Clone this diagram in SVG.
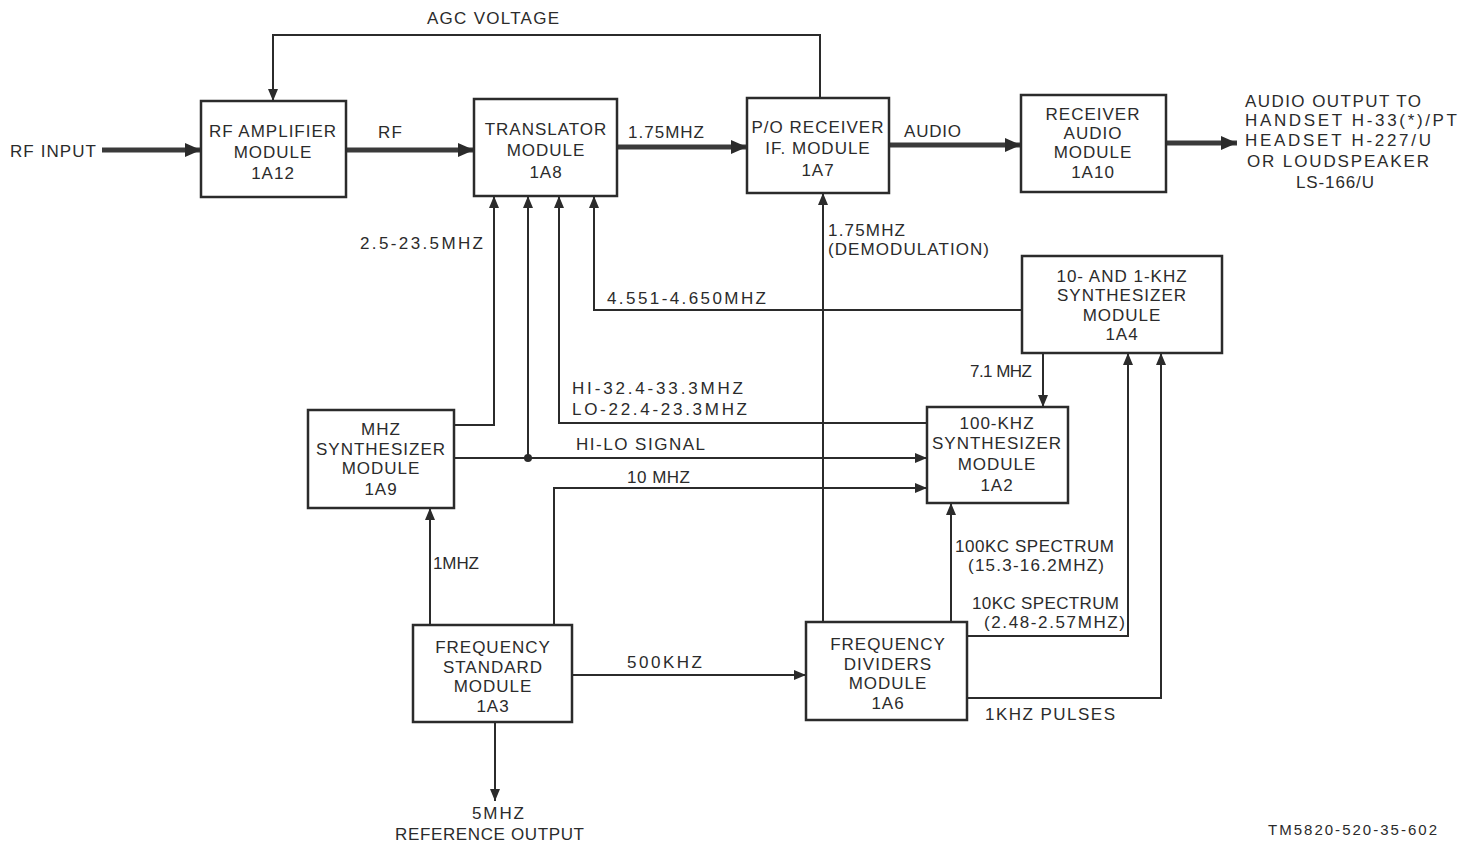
<svg xmlns="http://www.w3.org/2000/svg" width="1467" height="846" viewBox="0 0 1467 846">
<style>
.box{fill:none;stroke:#2b2b2b;stroke-width:2.5}
.t{font-family:"Liberation Sans",Arial,sans-serif;font-size:17px;letter-spacing:1px;fill:#2b2b2b}
.c{text-anchor:middle}
.thin{fill:none;stroke:#2b2b2b;stroke-width:2}
.thick{fill:none;stroke:#3a3a3a;stroke-width:5}
</style>
<defs>
<marker id="a" markerUnits="userSpaceOnUse" viewBox="0 0 12 10" refX="12" refY="5" markerWidth="12" markerHeight="10" orient="auto"><path d="M0,0 L12,5 L0,10 Z" fill="#2b2b2b"/></marker>
<marker id="A" markerUnits="userSpaceOnUse" viewBox="0 0 16 14" refX="16" refY="7" markerWidth="16" markerHeight="14" orient="auto"><path d="M0,0 L16,7 L0,14 Z" fill="#2b2b2b"/></marker>
</defs>
<rect width="1467" height="846" fill="#fff"/>

<g id="connectors">
<path class="thick" d="M102,150 H201" marker-end="url(#A)"/>
<path class="thick" d="M346,150 H474" marker-end="url(#A)"/>
<path class="thick" d="M617,147 H747" marker-end="url(#A)"/>
<path class="thick" d="M889,145 H1021" marker-end="url(#A)"/>
<path class="thick" d="M1166,143 H1237" marker-end="url(#A)"/>
<path class="thin" d="M820,98 V35 H273 V101" marker-end="url(#a)"/>
<path class="thin" d="M454,425 H494 V196" marker-end="url(#a)"/>
<path class="thin" d="M528,458 V196" marker-end="url(#a)"/>
<circle cx="528" cy="458" r="4" fill="#2b2b2b"/>
<path class="thin" d="M454,458 H927" marker-end="url(#a)"/>
<path class="thin" d="M927,423 H559 V196" marker-end="url(#a)"/>
<path class="thin" d="M1022,310 H594 V196" marker-end="url(#a)"/>
<path class="thin" d="M554,625 V488 H927" marker-end="url(#a)"/>
<path class="thin" d="M430,625 V508" marker-end="url(#a)"/>
<path class="thin" d="M572,675 H806" marker-end="url(#a)"/>
<path class="thin" d="M495,722 V801" marker-end="url(#a)"/>
<path class="thin" d="M823,622 V193" marker-end="url(#a)"/>
<path class="thin" d="M1043,353 V407" marker-end="url(#a)"/>
<path class="thin" d="M951,622 V503" marker-end="url(#a)"/>
<path class="thin" d="M967,636 H1128 V353" marker-end="url(#a)"/>
<path class="thin" d="M967,698 H1161 V353" marker-end="url(#a)"/>
</g>

<g id="labels" class="t">
<text x="427" y="24" textLength="133">AGC VOLTAGE</text>
<text x="10" y="157" textLength="87">RF INPUT</text>
<text x="378" y="138" textLength="25">RF</text>
<text x="628" y="138" textLength="77">1.75MHZ</text>
<text x="904" y="137" textLength="58">AUDIO</text>
<text x="1245" y="107" textLength="177">AUDIO OUTPUT  TO</text>
<text x="1245" y="126" textLength="213">HANDSET H-33(*)/PT</text>
<text x="1245" y="146" textLength="187">HEADSET H-227/U</text>
<text x="1247" y="167" textLength="183">OR LOUDSPEAKER</text>
<text x="1296" y="188" textLength="79">LS-166/U</text>
<text x="360" y="249" textLength="124">2.5-23.5MHZ</text>
<text x="828" y="236" textLength="78">1.75MHZ</text>
<text x="828" y="255" textLength="162">(DEMODULATION)</text>
<text x="607" y="304" textLength="160">4.551-4.650MHZ</text>
<text x="970" y="377" textLength="63">7.1 MHZ</text>
<text x="572" y="394" textLength="172">HI-32.4-33.3MHZ</text>
<text x="572" y="415" textLength="176">LO-22.4-23.3MHZ</text>
<text x="576" y="450" textLength="130">HI-LO SIGNAL</text>
<text x="627" y="483" textLength="64">10 MHZ</text>
<text x="433" y="569" textLength="47">1MHZ</text>
<text x="955" y="552" textLength="160">100KC SPECTRUM</text>
<text x="968" y="571" textLength="137">(15.3-16.2MHZ)</text>
<text x="972" y="609" textLength="148">10KC SPECTRUM</text>
<text x="984" y="628" textLength="142">(2.48-2.57MHZ)</text>
<text x="627" y="668" textLength="76">500KHZ</text>
<text x="985" y="720" textLength="131">1KHZ PULSES</text>
<text x="472" y="819" textLength="53">5MHZ</text>
<text x="395" y="840" textLength="190">REFERENCE OUTPUT</text>
<text x="1268" y="835" style="font-size:15px" textLength="170">TM5820-520-35-602</text>
</g>

<g id="rf-amp">
<rect class="box" x="201" y="101" width="145" height="96"/>
<text class="t c" x="273" y="137">RF AMPLIFIER</text>
<text class="t c" x="273" y="158">MODULE</text>
<text class="t c" x="273" y="179">1A12</text>
</g>
<g id="translator">
<rect class="box" x="474" y="99" width="143" height="97"/>
<text class="t c" x="546" y="135">TRANSLATOR</text>
<text class="t c" x="546" y="156">MODULE</text>
<text class="t c" x="546" y="178">1A8</text>
</g>
<g id="po-receiver">
<rect class="box" x="747" y="98" width="142" height="95"/>
<text class="t c" x="818" y="133">P/O RECEIVER</text>
<text class="t c" x="818" y="154">IF. MODULE</text>
<text class="t c" x="818" y="176">1A7</text>
</g>
<g id="receiver-audio">
<rect class="box" x="1021" y="95" width="145" height="97"/>
<text class="t c" x="1093" y="120">RECEIVER</text>
<text class="t c" x="1093" y="139">AUDIO</text>
<text class="t c" x="1093" y="158">MODULE</text>
<text class="t c" x="1093" y="178">1A10</text>
</g>
<g id="synth-10-1">
<rect class="box" x="1022" y="256" width="200" height="97"/>
<text class="t c" x="1122" y="282">10- AND 1-KHZ</text>
<text class="t c" x="1122" y="301">SYNTHESIZER</text>
<text class="t c" x="1122" y="321">MODULE</text>
<text class="t c" x="1122" y="340">1A4</text>
</g>
<g id="synth-100k">
<rect class="box" x="927" y="407" width="141" height="96"/>
<text class="t c" x="997" y="429">100-KHZ</text>
<text class="t c" x="997" y="449">SYNTHESIZER</text>
<text class="t c" x="997" y="470">MODULE</text>
<text class="t c" x="997" y="491">1A2</text>
</g>
<g id="synth-mhz">
<rect class="box" x="308" y="410" width="146" height="98"/>
<text class="t c" x="381" y="435">MHZ</text>
<text class="t c" x="381" y="455">SYNTHESIZER</text>
<text class="t c" x="381" y="474">MODULE</text>
<text class="t c" x="381" y="495">1A9</text>
</g>
<g id="freq-std">
<rect class="box" x="413" y="625" width="159" height="97"/>
<text class="t c" x="493" y="653">FREQUENCY</text>
<text class="t c" x="493" y="673">STANDARD</text>
<text class="t c" x="493" y="692">MODULE</text>
<text class="t c" x="493" y="712">1A3</text>
</g>
<g id="freq-div">
<rect class="box" x="806" y="622" width="161" height="98"/>
<text class="t c" x="888" y="650">FREQUENCY</text>
<text class="t c" x="888" y="670">DIVIDERS</text>
<text class="t c" x="888" y="689">MODULE</text>
<text class="t c" x="888" y="709">1A6</text>
</g>
</svg>
